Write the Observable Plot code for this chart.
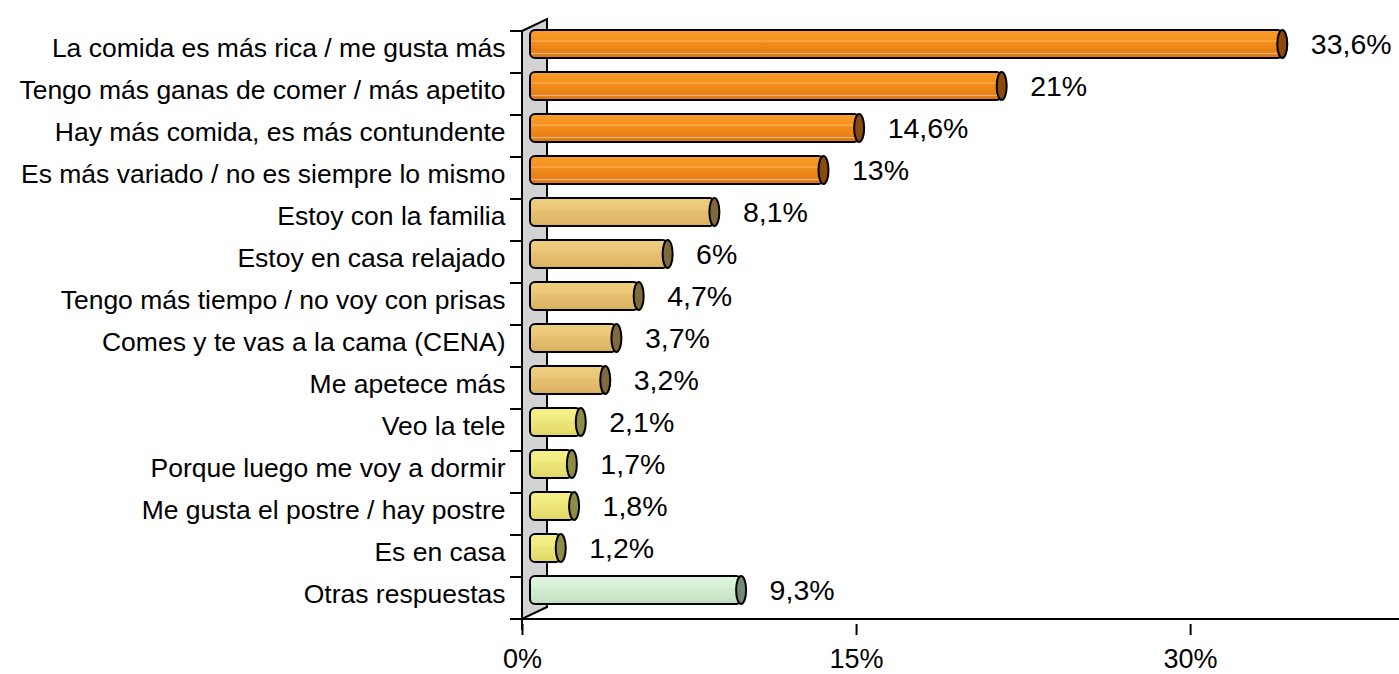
<!DOCTYPE html>
<html><head><meta charset="utf-8">
<script src="https://cdn.jsdelivr.net/npm/d3@7"></script>
<script src="https://cdn.jsdelivr.net/npm/@observablehq/plot@0.6"></script>
<style>
body{margin:0;background:#fff;}
#chart svg{display:block;}
</style></head><body>
<svg width="0" height="0" style="position:absolute">
<defs>
<linearGradient id="gOrange" x1="0" y1="0" x2="0" y2="1">
<stop offset="0" stop-color="#F99C2A"/><stop offset="0.36" stop-color="#F7931E"/>
<stop offset="0.40" stop-color="#FBB25E"/><stop offset="0.44" stop-color="#F38D1B"/>
<stop offset="0.80" stop-color="#E67F15"/><stop offset="0.84" stop-color="#F0B27A"/>
<stop offset="0.88" stop-color="#E17A12"/><stop offset="1" stop-color="#DA7510"/>
</linearGradient>
<linearGradient id="gTan" x1="0" y1="0" x2="0" y2="1">
<stop offset="0" stop-color="#F0CE80"/><stop offset="0.4" stop-color="#EBC878"/>
<stop offset="0.45" stop-color="#E6C172"/><stop offset="0.8" stop-color="#DFB868"/>
<stop offset="1" stop-color="#D6AE5E"/>
</linearGradient>
<linearGradient id="gYellow" x1="0" y1="0" x2="0" y2="1">
<stop offset="0" stop-color="#F5F08A"/><stop offset="0.4" stop-color="#F1EB80"/>
<stop offset="0.45" stop-color="#EDE67A"/><stop offset="0.8" stop-color="#E6DE70"/>
<stop offset="1" stop-color="#DCD466"/>
</linearGradient>
<linearGradient id="gGreen" x1="0" y1="0" x2="0" y2="1">
<stop offset="0" stop-color="#E0F5E0"/><stop offset="0.4" stop-color="#D8F1D8"/>
<stop offset="0.45" stop-color="#D1ECD1"/><stop offset="0.8" stop-color="#C8E5C8"/>
<stop offset="1" stop-color="#BEDCBE"/>
</linearGradient>
</defs></svg>
<div id="chart"></div>
<script>
const categories = [
  "La comida es más rica / me gusta más",
  "Tengo más ganas de comer / más apetito",
  "Hay más comida, es más contundente",
  "Es más variado / no es siempre lo mismo",
  "Estoy con la familia",
  "Estoy en casa relajado",
  "Tengo más tiempo / no voy con prisas",
  "Comes y te vas a la cama (CENA)",
  "Me apetece más",
  "Veo la tele",
  "Porque luego me voy a dormir",
  "Me gusta el postre / hay postre",
  "Es en casa",
  "Otras respuestas"
];
const values = [33.6, 21, 14.6, 13, 8.1, 6, 4.7, 3.7, 3.2, 2.1, 1.7, 1.8, 1.2, 9.3];
const groups = ["A","A","A","A","B","B","B","B","B","C","C","C","C","D"];
const xTicks = [0, 15, 30];

(function () {
const groupFill = {A: "url(#gOrange)", B: "url(#gTan)", C: "url(#gYellow)", D: "url(#gGreen)"};
const groupCap = {A: "#8B4A0C", B: "#7F6A3D", C: "#8E8B45", D: "#6F8B73"};

const data = categories.map((c, i) => ({cat: c, value: values[i], group: groups[i]}));
const fmt = v => String(v).replace(".", ",") + "%";

const font = "'Liberation Sans', Arial, sans-serif";

const barMarks = [];
for (const g of Object.keys(groupFill)) {
  const sub = data.filter(d => d.group === g);
  barMarks.push(Plot.barX(sub, {
    x: "value", y: "cat", fill: groupFill[g], stroke: "black", strokeWidth: 2,
    insetTop: 7, insetBottom: 7, insetRight: -4, dx: 8, dy: -8, rx: 5
  }));
  barMarks.push(Plot.barX(sub, {
    x1: "value", x2: "value", y: "cat", fill: groupCap[g], stroke: "black", strokeWidth: 2,
    insetTop: 7, insetBottom: 7, insetLeft: -5, insetRight: -5, dx: 12, dy: -8, rx: 5, ry: 14.5
  }));
}

const plot = Plot.plot({
  width: 1399,
  height: 674,
  marginLeft: 522,
  marginRight: 0,
  marginTop: 25,
  marginBottom: 50,
  style: {fontFamily: font, color: "black", background: "white"},
  x: {domain: [0, 39.38], axis: null},
  y: {domain: categories, padding: 0, axis: null},
  marks: [
    ...barMarks,
    Plot.text(data, {
      x: "value", y: "cat", text: d => fmt(d.value), textAnchor: "start",
      dx: 40, dy: -8, fontSize: 28.5, fill: "black"
    }),
    Plot.axisY({tickSize: 0, tickPadding: 17, fontSize: 26.5, dy: -4, label: null, style: {letterSpacing: "0.35px"}}),
    Plot.axisX({ticks: xTicks, tickFormat: d => d + "%", tickSize: 11, tickPadding: 13, fontSize: 27, strokeWidth: 2, label: null})
  ]
});

// decoration: 3D wall, boundary ticks and axis lines, drawn from the plot's own scales
const xs = plot.scale("x"), ys = plot.scale("y");
const x0 = xs.apply(0);
const step = ys.apply(categories[1]) - ys.apply(categories[0]);
const yTop = ys.apply(categories[0]);
const yBottom = ys.apply(categories[categories.length - 1]) + step;
const depth = 25, rise = 12, tick = 12;
const ns = "http://www.w3.org/2000/svg";
const deco = document.createElementNS(ns, "g");
const wall = document.createElementNS(ns, "polygon");
wall.setAttribute("points", `${x0},${yTop} ${x0 + depth},${yTop - rise} ${x0 + depth},${yBottom - rise} ${x0},${yBottom}`);
wall.setAttribute("fill", "#D3D3D3");
wall.setAttribute("stroke", "black");
wall.setAttribute("stroke-width", 2);
deco.appendChild(wall);
function line(x1, y1, x2, y2) {
  const l = document.createElementNS(ns, "line");
  l.setAttribute("x1", x1); l.setAttribute("y1", y1);
  l.setAttribute("x2", x2); l.setAttribute("y2", y2);
  l.setAttribute("stroke", "black"); l.setAttribute("stroke-width", 2);
  deco.appendChild(l);
}
for (let k = 0; k <= categories.length; k++) line(x0 - tick, yTop + k * step, x0, yTop + k * step);
line(x0 - tick, yBottom, 1399, yBottom);
line(x0, yTop, x0, yBottom + 11);
const firstG = plot.querySelector("g");
plot.insertBefore(deco, firstG);
document.getElementById("chart").appendChild(plot);
})();
</script>
</body></html>
